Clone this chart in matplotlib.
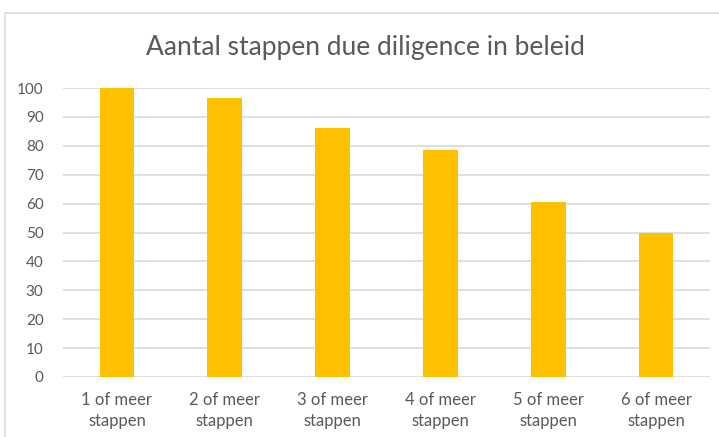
import matplotlib.pyplot as plt
from matplotlib.patches import Rectangle

categories = ["1 of meer\nstappen", "2 of meer\nstappen", "3 of meer\nstappen",
              "4 of meer\nstappen", "5 of meer\nstappen", "6 of meer\nstappen"]
values = [100, 96.5, 86, 78.5, 60.7, 50]
yticks = list(range(0, 101, 10))

W, H = 719, 437
fig = plt.figure(figsize=(W / 100, H / 100), dpi=100)
plt.rcParams['font.family'] = ['Lato', 'DejaVu Sans']

# outer chart border (Excel style, cut off at right/bottom)
fig.patches.append(Rectangle((5 / W, -0.1), 1.1, (H - 13) / H + 0.1,
                             transform=fig.transFigure, fill=False,
                             edgecolor='#D9D9D9', linewidth=1.2))

ax = fig.add_axes([63 / W, (H - 377) / H, (710 - 63) / W, (377 - 88) / H])
x = range(len(categories))
ax.bar(x, values, width=0.32, color='#FFC000', zorder=3)

ax.set_xlim(-0.5, len(categories) - 0.5)
ax.set_ylim(0, 100)
ax.set_yticks(yticks)
ax.set_xticks(list(x))
ax.set_xticklabels(categories, fontsize=12, color='#595959', linespacing=1.4)
ax.tick_params(axis='y', labelsize=11, labelcolor='#595959', length=0, pad=14)
ax.tick_params(axis='x', length=0, pad=11)
ax.yaxis.grid(True, color='#D9D9D9', linewidth=1.2, zorder=0)
for s in ax.spines.values():
    s.set_visible(False)

fig.text(365 / W, 1 - 47 / H, "Aantal stappen due diligence in beleid",
         ha='center', va='center', fontsize=19, color='#595959')

fig.savefig("out.png", dpi=100)
